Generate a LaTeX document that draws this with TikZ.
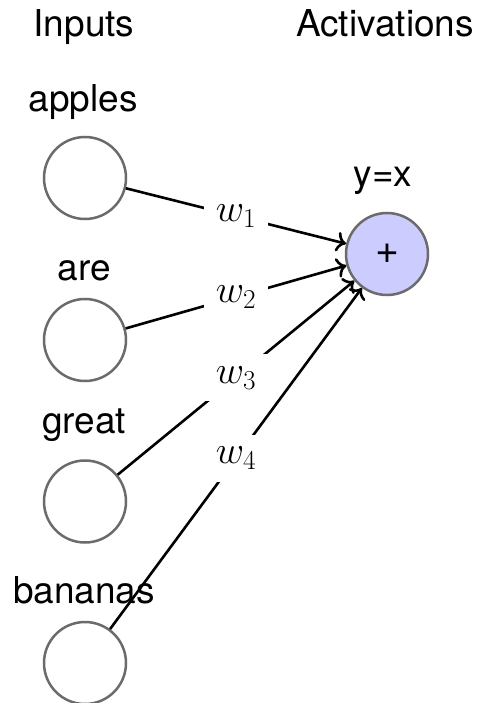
\RequirePackage{fix-cm}
\documentclass[tikz,border=0pt]{standalone}
\usepackage{fontspec}
\setmainfont{TeX Gyre Heros}
\usetikzlibrary{arrows.meta}
\begin{document}
\begin{tikzpicture}[x=1pt,y=-1pt,
  every node/.style={font=\fontsize{37}{44}\selectfont},
  neuron/.style={circle,draw=black!58,line width=2.5pt,minimum size=82pt,inner sep=0pt},
  actneuron/.style={neuron,fill=blue!20,font=\fontsize{41}{48}\selectfont},
  conn/.style={draw=black,line width=2.6pt,-{To[scale=1.3]}},
  wlabel/.style={fill=white,inner sep=12pt,font=\fontsize{39}{46}\selectfont},
  txt/.style={anchor=base,inner sep=0pt}]
\useasboundingbox (0,0) rectangle (482,703);
\node[txt] (hin) at (84,37) {Inputs};
\node[txt] (hact) at (385,37) {Activations};
\node[neuron] (i1) at (85,178) {};
\node[neuron] (i2) at (85,340) {};
\node[neuron] (i3) at (85,501.5) {};
\node[neuron] (i4) at (85,663) {};
\node[txt] (l1) at (83,112) {apples};
\node[txt] (l2) at (84,280) {are};
\node[txt] (l3) at (84,433) {great};
\node[txt] (l4) at (84,603) {bananas};
\node[actneuron] (a) at (387,254) {+};
\node[txt] (fy) at (383,187) {y=x};
\draw[conn] (i1) -- node[wlabel] (w1) {$w_1$} (a);
\draw[conn] (i2) -- node[wlabel] (w2) {$w_2$} (a);
\draw[conn] (i3) -- node[wlabel] (w3) {$w_3$} (a);
\draw[conn] (i4) -- node[wlabel] (w4) {$w_4$} (a);
\end{tikzpicture}
\end{document}
